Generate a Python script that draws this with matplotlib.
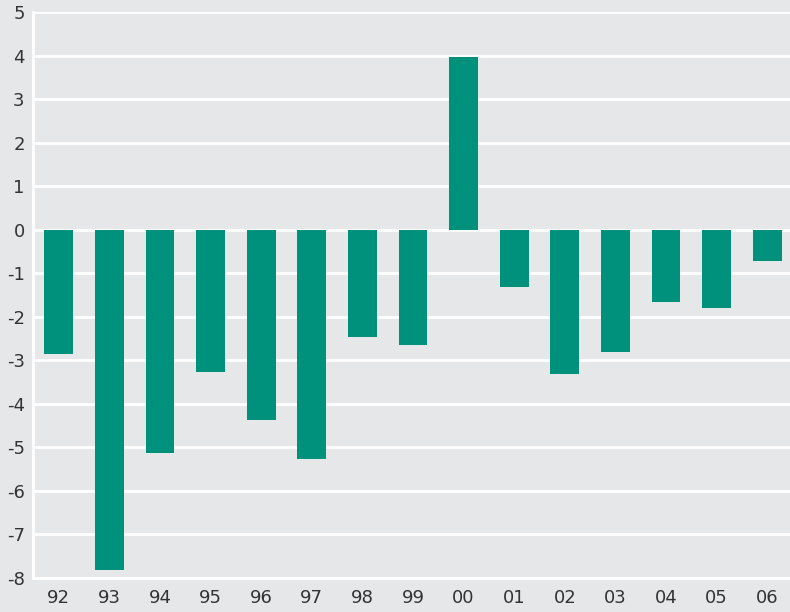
import matplotlib.pyplot as plt

# years and balance values
years = ["92", "93", "94", "95", "96", "97", "98", "99", "00", "01", "02", "03", "04", "05", "06"]
values = [-2.85, -7.82, -5.12, -3.27, -4.37, -5.27, -2.47, -2.65, 3.96, -1.32, -3.32, -2.81, -1.66, -1.81, -0.71]
yticks = list(range(-8, 6))

bg = "#e6e7e9"
bar_color = "#00917c"

fig = plt.figure(figsize=(7.9, 6.12), dpi=100, facecolor=bg)
ax = fig.add_axes([33 / 790, 1 - 578 / 612, 1 - 33 / 790, (578 - 12) / 612])
ax.set_facecolor(bg)

x = list(range(len(years)))
ax.bar(x, values, width=0.57, color=bar_color, zorder=3)

ax.set_ylim(-8, 5)
ax.set_xlim(-0.51, 14.45)
ax.set_yticks(yticks)
ax.set_yticklabels([str(t) for t in yticks])
ax.set_xticks(x)
ax.set_xticklabels(years)

# white gridlines
ax.grid(axis="y", color="white", linewidth=2, zorder=1)
ax.set_axisbelow(True)

for side in ["top", "right"]:
    ax.spines[side].set_visible(False)
for side in ["left", "bottom"]:
    ax.spines[side].set_color("white")
    ax.spines[side].set_linewidth(2)
    ax.spines[side].set_zorder(4)

ax.tick_params(length=0, labelsize=13, labelcolor="#333333", pad=8)
ax.tick_params(axis="y", pad=6)

fig.savefig("out.png", dpi=100, facecolor=bg)
